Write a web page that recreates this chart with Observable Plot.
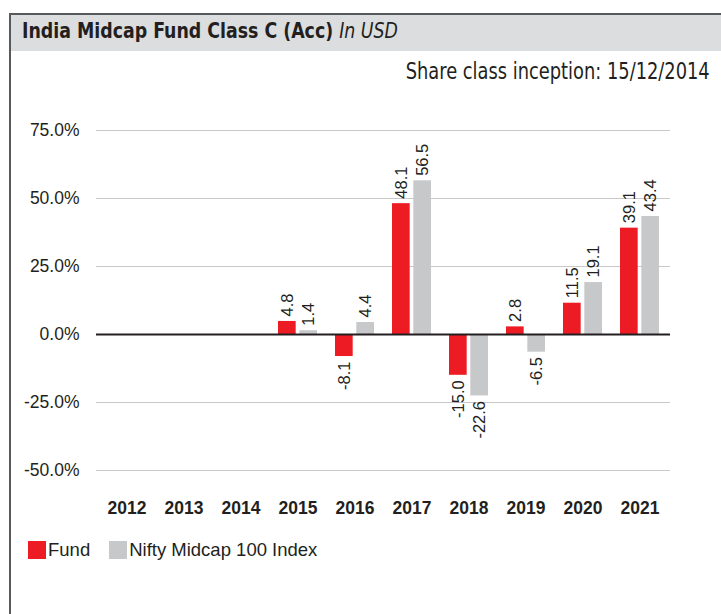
<!DOCTYPE html>
<html>
<head>
<meta charset="utf-8">
<script src="https://cdn.jsdelivr.net/npm/d3@7"></script>
<script src="https://cdn.jsdelivr.net/npm/@observablehq/plot@0.6"></script>
<style>
  html, body { margin: 0; padding: 0; background: #fff; }
  body { width: 721px; height: 614px; position: relative; overflow: hidden; font-family: "Liberation Sans", Arial, sans-serif; color: #231f20; }
  #topline { position: absolute; left: 9px; top: 13px; width: 712px; height: 2px; background: #58595b; }
  #leftline { position: absolute; left: 9px; top: 13px; width: 1.5px; height: 601px; background: #58595b; }
  #band { position: absolute; left: 10.5px; top: 15px; width: 711px; height: 36px; background: #dcddde; }
  #title { position: absolute; left: 22px; top: 19px; font-family: "DejaVu Sans Condensed", sans-serif; font-weight: bold; font-size: 21px; white-space: nowrap; transform-origin: 0 0; color: #231f20; }
  #title i { font-weight: normal; }
  #share { position: absolute; right: 11px; top: 58px; font-family: "DejaVu Sans Condensed", sans-serif; font-size: 23px; white-space: nowrap; transform-origin: 100% 0; color: #231f20; }
  #chart { position: absolute; left: 0; top: 100px; }
  #legend { position: absolute; left: 28px; top: 541px; display: flex; align-items: center; font-size: 18.5px; line-height: 18px; }
  .sw { width: 18px; height: 18px; display: inline-block; margin-right: 2px; }
  .lt { margin-right: 19px; }
  #chart g[aria-label^="x-axis"] text { font-weight: bold; font-size: 17.5px; }
  #chart g[aria-label^="y-axis"] text { font-size: 17.5px; }
</style>
</head>
<body>
<div id="topline"></div>
<div id="leftline"></div>
<div id="band"></div>
<div id="title">India Midcap Fund Class C (Acc) <i>In USD</i></div>
<div id="share">Share class inception: 15/12/2014</div>
<div id="chart"></div>
<div id="legend"></div>
<script>
const years = ["2012","2013","2014","2015","2016","2017","2018","2019","2020","2021"];
const fundValues = [null, null, null, 4.8, -8.1, 48.1, -15.0, 2.8, 11.5, 39.1];
const indexValues = [null, null, null, 1.4, 4.4, 56.5, -22.6, -6.5, 19.1, 43.4];
const seriesNames = ["Fund", "Nifty Midcap 100 Index"];
const seriesColors = ["#ed1c24", "#c7c8ca"];
const yTicks = [-50, -25, 0, 25, 50, 75];

const fund = years.map((y, i) => ({year: y, value: fundValues[i]})).filter(d => d.value != null);
const index = years.map((y, i) => ({year: y, value: indexValues[i]})).filter(d => d.value != null);

const W = 721, H = 440, ML = 96, MR = 51;
const step = (W - ML - MR) / years.length;
const padIn = 0.315;
const bw = step * (1 - padIn);
const barW = 18;
const shift = (bw - barW) / 2;

const lab = (data, dx) => [
  Plot.text(data.filter(d => d.value >= 0), {x: "year", y: "value", text: d => d.value.toFixed(1), rotate: -90, textAnchor: "start", lineAnchor: "middle", dx, dy: -5, fill: "#231f20", fontSize: 16.5}),
  Plot.text(data.filter(d => d.value < 0), {x: "year", y: "value", text: d => d.value.toFixed(1), rotate: -90, textAnchor: "end", lineAnchor: "middle", dx, dy: 5, fill: "#231f20", fontSize: 16.5})
];

const chart = Plot.plot({
  width: W,
  height: H,
  marginLeft: ML,
  marginRight: MR,
  marginTop: 30,
  marginBottom: 70,
  style: {fontFamily: "'Liberation Sans', Arial, sans-serif", fontSize: "17px", color: "#231f20", background: "transparent", overflow: "visible"},
  x: {domain: years, paddingInner: padIn, paddingOuter: padIn / 2, tickSize: 0, tickPadding: 31, label: null},
  y: {domain: [-50, 75], ticks: yTicks, tickFormat: d => d.toFixed(1) + "%", tickSize: 0, tickPadding: 17, label: null},
  marks: [
    Plot.ruleY(yTicks.filter(d => d !== 0), {stroke: "#c8c8c8", strokeWidth: 1.2}),
    Plot.barY(fund, {x: "year", y: "value", fill: seriesColors[0], insetLeft: 0, insetRight: bw - barW}),
    Plot.barY(index, {x: "year", y: "value", fill: seriesColors[1], insetLeft: bw - barW, insetRight: 0}),
    Plot.ruleY([0], {stroke: "#231f20", strokeWidth: 2.2}),
    ...lab(fund, -shift),
    ...lab(index, shift)
  ]
});
document.getElementById("chart").appendChild(chart);

const legend = document.getElementById("legend");
seriesNames.forEach((n, i) => {
  const s = document.createElement("span"); s.className = "sw"; s.style.background = seriesColors[i];
  const t = document.createElement("span"); t.className = "lt"; t.textContent = n;
  legend.appendChild(s); legend.appendChild(t);
});

function fit(id, target) {
  const el = document.getElementById(id);
  const w = el.getBoundingClientRect().width;
  el.style.transform = `scaleX(${target / w})`;
}
fit("title", 376);
fit("share", 304);
</script>
</body>
</html>
